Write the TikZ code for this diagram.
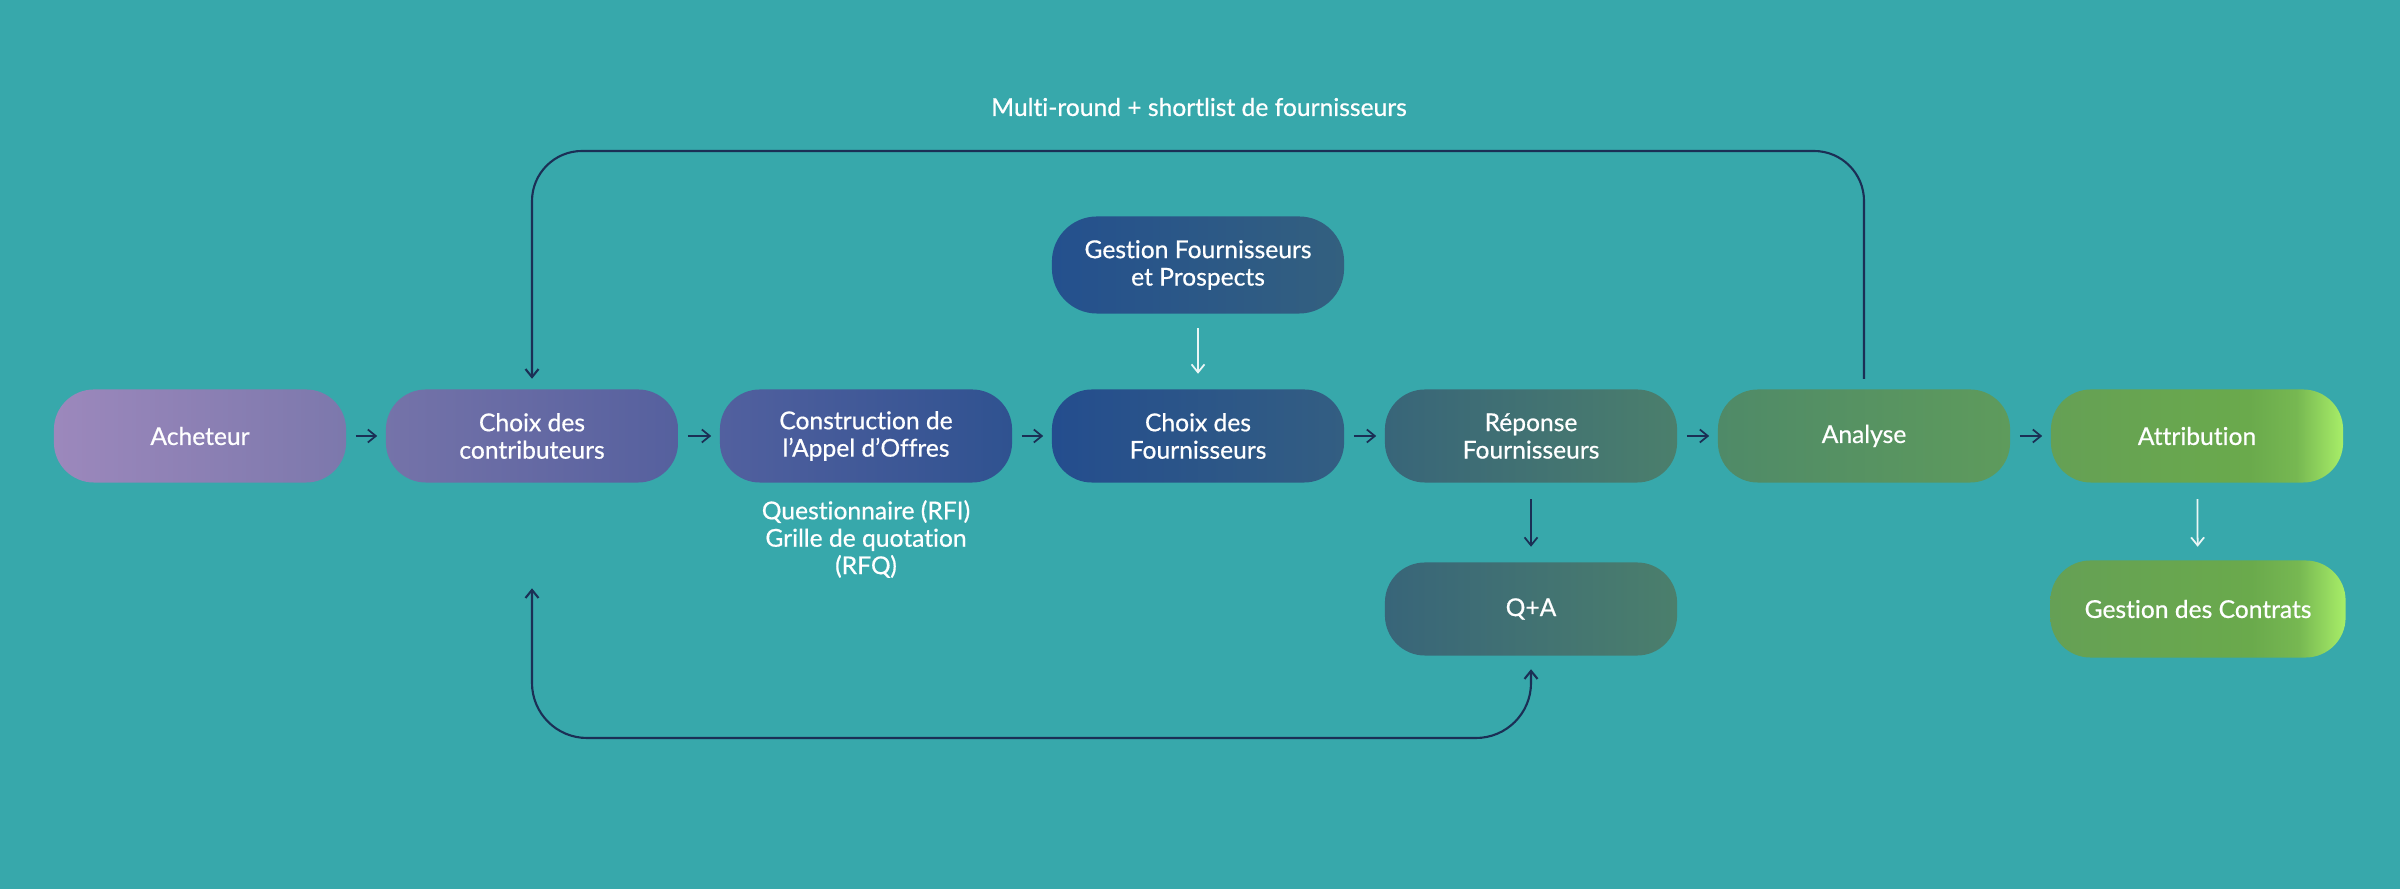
\documentclass[tikz,border=0pt]{standalone}
\usepackage{fontspec}
\setmainfont{Lato}[Ligatures=NoCommon, FakeBold=0.6]
\usetikzlibrary{arrows.meta,calc,shapes}
\definecolor{bgteal}{HTML}{37A8AB}
\definecolor{navyline}{HTML}{1B2F55}
\definecolor{paleline}{HTML}{EAF6F6}
\definecolor{greenA}{HTML}{65A055}
\definecolor{greenB}{HTML}{6AAA4C}
\definecolor{greenC}{HTML}{A8EE68}
\pgfdeclarehorizontalshading{greenshade}{100bp}{color(0bp)=(greenA); color(25bp)=(greenA); color(59bp)=(greenB); color(67bp)=(greenB!80!greenC); color(75bp)=(greenC); color(100bp)=(greenC)}
\newcommand{\boxfont}{\fontsize{7}{7.8}\selectfont}
\tikzstyle{box} = [rectangle, rounded corners=0.4cm, minimum width=2.92cm, minimum height=0.93cm, inner sep=0pt, text=white, align=center, font=\boxfont]
\tikzstyle{arrow} = [line width=0.5pt, -{Straight Barb[length=0.8mm,width=1.3mm]}]
\tikzstyle{loopline} = [line width=0.6pt, draw=navyline, rounded corners=0.5cm]

\begin{document}
\begin{tikzpicture}[x=0.01cm,y=-0.01cm]
\fill[bgteal] (0,0) rectangle (2400,889);
\useasboundingbox (0,0) rectangle (2400,889);
% main row
\draw (200,436) node (ach) [box, left color={rgb,255:red,156;green,136;blue,188}, right color={rgb,255:red,124;green,120;blue,172}] {Acheteur};
\draw (532,436) node (contrib) [box, left color={rgb,255:red,117;green,115;blue,169}, right color={rgb,255:red,85;green,96;blue,158}] {Choix des\\contributeurs};
\draw (866,436) node (construct) [box, left color={rgb,255:red,82;green,96;blue,159}, right color={rgb,255:red,47;green,82;blue,144}] {Construction de\\l'Appel d'Offres};
\draw (1198,436) node (choixF) [box, left color={rgb,255:red,36;green,77;blue,142}, right color={rgb,255:red,51;green,94;blue,130}] {Choix des\\Fournisseurs};
\draw (1531,436) node (rep) [box, left color={rgb,255:red,56;green,101;blue,121}, right color={rgb,255:red,75;green,127;blue,108}] {Réponse\\Fournisseurs};
\draw (1864,436) node (ana) [box, left color={rgb,255:red,79;green,138;blue,104}, right color={rgb,255:red,94;green,155;blue,92}] {Analyse};
\draw (2197,436) node (attr) [box, shading=greenshade] {Attribution};
% top and bottom
\draw (1198,265) node (gestF) [box, minimum height=0.97cm, rounded corners=0.45cm, left color={rgb,255:red,36;green,80;blue,142}, right color={rgb,255:red,51;green,96;blue,127}] {Gestion Fournisseurs\\et Prospects};
\draw (1531,609) node (qa) [box, left color={rgb,255:red,56;green,101;blue,121}, right color={rgb,255:red,75;green,127;blue,108}] {Q+A};
\draw (2198,609) node (contrats) [box, minimum width=2.95cm, minimum height=0.97cm, shading=greenshade] {Gestion des Contrats};
\node (title) [text=white, font=\boxfont] at (1199,107) {Multi-round + shortlist de fournisseurs};
\node (rfq) [text=white, font=\boxfont, align=center] at (866,539) {Questionnaire (RFI)\\Grille de quotation\\(RFQ)};
% arrows
\foreach \a/\b in {ach/contrib, contrib/construct, construct/choixF, choixF/rep, rep/ana, ana/attr}
  \draw[arrow, navyline, shorten <=0.9mm, shorten >=0.8mm] (\a) -- (\b);
\draw[arrow, paleline, shorten <=1.4mm, shorten >=1.5mm] (gestF) -- (choixF);
\draw[arrow, navyline, shorten <=1.6mm, shorten >=1.5mm] (rep) -- (qa);
\draw[arrow, paleline, shorten <=1.6mm, shorten >=1.3mm] (attr) -- (contrats);
% loops
\coordinate (topline) at (1200,151);
\coordinate (botline) at (1000,738);
\coordinate (loopend) at ([yshift=-1.05cm]contrib.south);
\draw[loopline, -{Straight Barb[length=0.8mm,width=1.3mm]}, shorten <=1mm, shorten >=1mm] (ana.north) -- (ana.north |- topline) -- (contrib.north |- topline) -- (contrib.north);
\draw[loopline, {Straight Barb[length=0.8mm,width=1.3mm]}-{Straight Barb[length=0.8mm,width=1.3mm]}, rounded corners=0.55cm, shorten >=1.3mm] (loopend) -- (loopend |- botline) -- (qa.south |- botline) -- (qa.south);
\end{tikzpicture}
\end{document}
